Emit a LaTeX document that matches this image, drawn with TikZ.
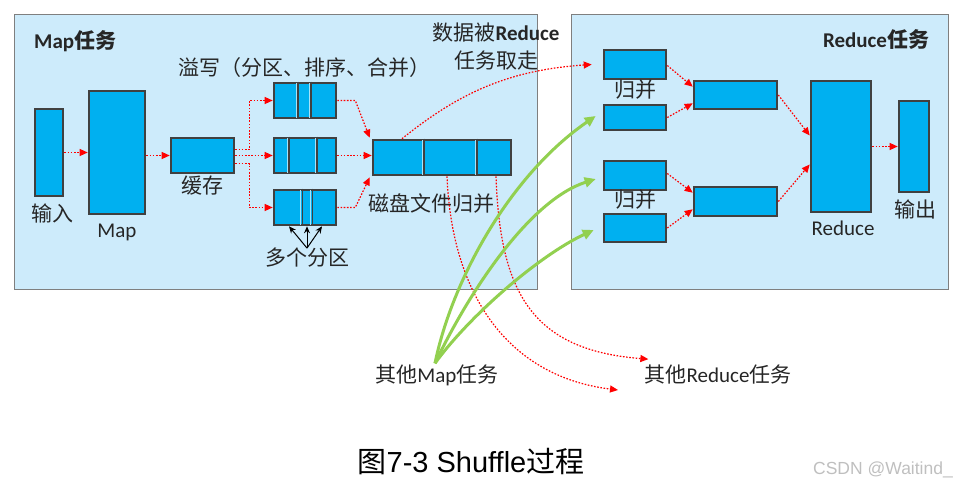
\documentclass[tikz,border=0pt]{standalone}
\usepackage{fontspec}
\setmainfont{Carlito}
\newfontfamily\zhfont{Noto Sans CJK SC}
\newfontfamily\capfont{Liberation Sans}
\usetikzlibrary{arrows.meta}
\definecolor{panelfill}{HTML}{CDEBFB}
\definecolor{paneledge}{HTML}{7F7F7F}
\definecolor{boxfill}{HTML}{00B0F0}
\definecolor{boxedge}{HTML}{404040}
\definecolor{flowred}{HTML}{FF0000}
\definecolor{fetchgreen}{HTML}{92D050}
\definecolor{txt}{HTML}{262626}
\newcommand\zh[1]{{\zhfont #1}}

\begin{document}
\begin{tikzpicture}[x=1pt,y=-1pt,
  panel/.style={draw=paneledge, fill=panelfill, line width=1pt, inner sep=0pt},
  blk/.style={draw=boxedge, fill=boxfill, line width=2.6pt, inner sep=0pt},
  lbl/.style={text=txt, font=\fontsize{21pt}{24pt}\selectfont, inner sep=0pt},
  ttl/.style={text=txt, font=\fontsize{21pt}{24pt}\selectfont\bfseries, inner sep=0pt},
  flow/.style={draw=flowred, line width=1.2pt, dash pattern=on 1.6pt off 1.6pt,
    -{Triangle[length=8pt,width=7pt]}},
  fetch/.style={draw=fetchgreen, line width=3pt, -{Triangle[length=11pt,width=10pt]}},
  pick/.style={draw=black, line width=1pt, -{Stealth[length=7pt,width=6pt]}},
  divdark/.style={draw=boxedge, line width=1.6pt},
  divlight/.style={draw=white!65!boxfill, line width=1pt},
]
\useasboundingbox (0,0) rectangle (956,487);

% the two task panels
\node[panel, minimum width=523pt, minimum height=274pt] (mappanel) at (275.5,152) {};
\node[panel, minimum width=377pt, minimum height=274pt] (redpanel) at (759.5,152) {};

\node[ttl, anchor=west] (maptitle) at (34,41) {Map\zh{任务}};
\node[ttl] (redtitle) at (876,39) {Reduce\zh{任务}};

% ---- map side ----
\node[blk, minimum width=28pt, minimum height=87pt] (in) at (49,152.5) {};
\node[blk, minimum width=56pt, minimum height=123pt] (map) at (117,152.5) {};
\node[blk, minimum width=63pt, minimum height=35pt] (buf) at (202.5,155.5) {};
\node[blk, minimum width=62pt, minimum height=35pt] (p1) at (305,100.5) {};
\node[blk, minimum width=62pt, minimum height=35pt] (p2) at (305,155.5) {};
\node[blk, minimum width=62pt, minimum height=35pt] (p3) at (305,207.5) {};
\node[blk, minimum width=138pt, minimum height=35pt] (disk) at (442,157.5) {};

% partition dividers
\foreach \b/\s in {p1/-7, p1/6, p2/-16, p2/12, p3/-2.5, p3/7.5, disk/-18, disk/35}{
  \draw[divlight] ([xshift=\s pt-1.6pt, yshift=-1.5pt]\b.north) -- ([xshift=\s pt-1.6pt, yshift=1.5pt]\b.south);
  \draw[divdark] ([xshift=\s pt]\b.north) -- ([xshift=\s pt]\b.south);
}

\node[lbl] (inlbl) at (52,213) {\zh{输入}};
\node[lbl] (maplbl) at (117,232) {Map};
\node[lbl] (buflbl) at (202,186) {\zh{缓存}};
\node[lbl] (spill) at (304,68) {\zh{溢写（分区、排序、合并）}};
\node[lbl] (multi) at (307,258) {\zh{多个分区}};
\node[lbl] (disklbl) at (431,203) {\zh{磁盘文件归并}};
\node[lbl, align=center] (taken) at (496,47) {\zh{数据被}\textbf{Reduce}\\[4pt]\zh{任务取走}};

\draw[flow] (in) -- (map);
\draw[flow] (map.east |- buf) -- (buf.west);
\draw[flow] ([yshift=6pt]buf.east) -- ++(14,0) |- (p1.west);
\draw[flow] (buf.east) -- (p2.west);
\draw[flow] ([yshift=-8pt]buf.east) -- ++(14,0) |- (p3.west);
\draw[flow] (p1.east) -- ++(18,0) -- ([xshift=-2pt,yshift=1pt]disk.north west);
\draw[flow] (p2.east) -- (p2.east -| disk.west);
\draw[flow] (p3.east) -- ++(18,0) -- ([xshift=-2pt,yshift=-1pt]disk.south west);

\draw[pick] (multi.north) -- ([xshift=-16pt]p3.south);
\draw[pick] (multi.north) -- (multi.north |- p3.south);
\draw[pick] (multi.north) -- ([xshift=17pt]p3.south);

% ---- reduce side ----
\node[blk, minimum width=62pt, minimum height=29pt] (a1) at (635,64.5) {};
\node[blk, minimum width=62pt, minimum height=25pt] (a2) at (635,117.5) {};
\node[blk, minimum width=62pt, minimum height=29pt] (b1) at (635,175.5) {};
\node[blk, minimum width=62pt, minimum height=28pt] (b2) at (635,228) {};
\node[blk, minimum width=83pt, minimum height=28pt] (m1) at (735.5,95) {};
\node[blk, minimum width=83pt, minimum height=29pt] (m2) at (735.5,201.5) {};
\node[blk, minimum width=60pt, minimum height=131pt] (red) at (841,146.5) {};
\node[blk, minimum width=30pt, minimum height=91pt] (out) at (914,146.5) {};

\node[lbl] (merge1) at (635,90) {\zh{归并}};
\node[lbl] (merge2) at (635,200) {\zh{归并}};
\node[lbl] (redlbl) at (843,228) {Reduce};
\node[lbl] (outlbl) at (915,209) {\zh{输出}};

\draw[flow] ([yshift=-1pt]a1.east) -- ([yshift=-7pt]m1.north west);
\draw[flow] (a2.east) -- ([yshift=7pt]m1.south west);
\draw[flow] ([yshift=2pt]b1.east) -- ([yshift=-7pt]m2.north west);
\draw[flow] (b2.east) -- ([yshift=8pt]m2.south west);
\draw[flow] (m1.east) -- ([yshift=11pt]red.west);
\draw[flow] (m2.east) -- ([yshift=-18pt]red.west);
\draw[flow] (red.east) -- (out.west);

% ---- outside the panels ----
\node[lbl] (othmap) at (437,375) {\zh{其他}Map\zh{任务}};
\node[lbl] (othred) at (718,375) {\zh{其他}Reduce\zh{任务}};
\coordinate (elsewhere) at (618,390);

% fetched by this reduce task / sent to other reduce tasks
\draw[flow] ([xshift=-40pt]disk.north) .. controls (460,92) and (510,70) .. ([xshift=-11pt]a1.west);
\draw[flow] ([xshift=5pt]disk.south) .. controls (452,300) and (512,377) .. (elsewhere);
\draw[flow] ([xshift=54pt]disk.south) .. controls (500,290) and (530,350) .. ([xshift=4pt,yshift=6pt]othred.north west);

% map outputs from other map tasks
\draw[fetch] ([xshift=-2pt,yshift=1pt]othmap.north) .. controls (452,280) and (510,175) .. ([xshift=-7pt,yshift=1.5pt]a2.west);
\draw[fetch] ([xshift=-2pt,yshift=1pt]othmap.north) .. controls (470,290) and (530,200) .. ([xshift=-7pt,yshift=-3.5pt]b1.west);
\draw[fetch] ([xshift=-2pt,yshift=1pt]othmap.north) .. controls (470,315) and (540,255) .. ([xshift=-9pt,yshift=-2pt]b2.west);

% caption and mark
\node[text=black, font=\fontsize{29pt}{32pt}\selectfont\capfont, inner sep=0pt] (caption) at (471,462) {\zh{图}7-3 Shuffle\zh{过程}};
\node[text=black!25, font=\fontsize{17.5pt}{19pt}\selectfont\capfont, inner sep=0pt] (mark) at (883,470) {CSDN @Waitind\_};
\end{tikzpicture}
\end{document}
